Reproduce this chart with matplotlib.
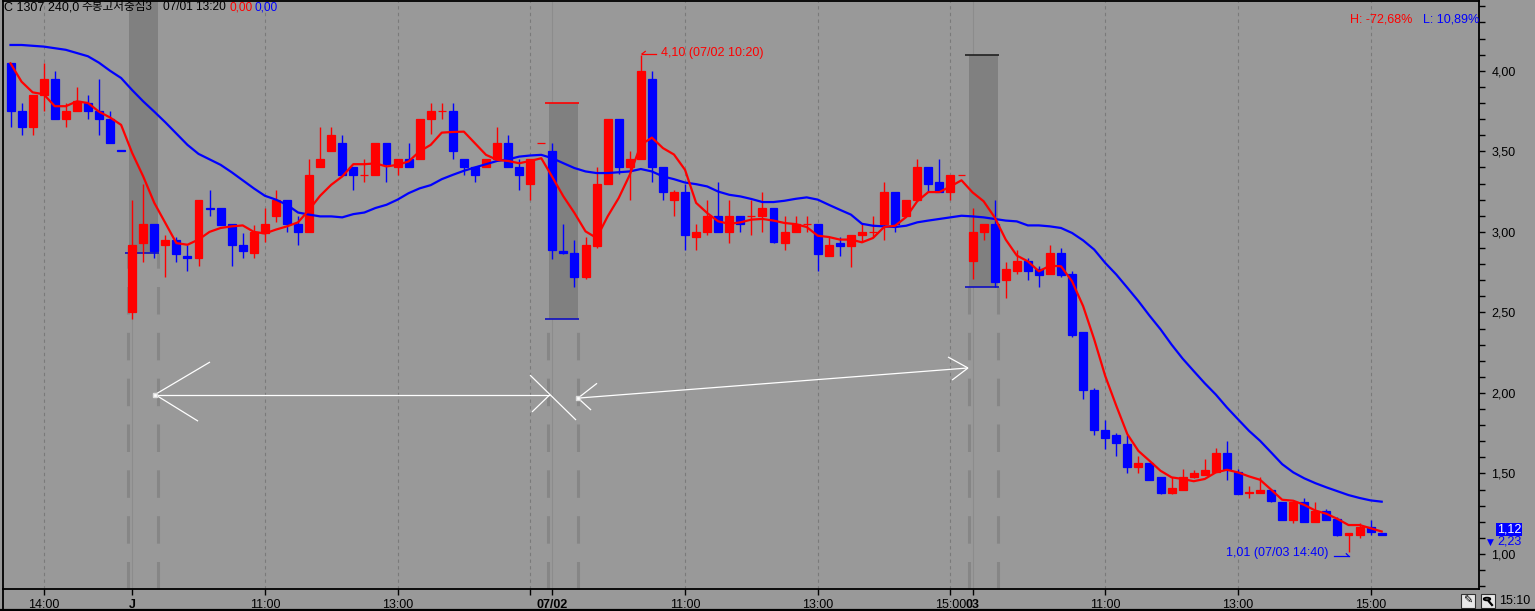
import matplotlib
matplotlib.use("Agg")
import matplotlib.pyplot as plt
from matplotlib.patches import Rectangle, Circle
from matplotlib.lines import Line2D
from matplotlib.ticker import FixedLocator, MultipleLocator, FuncFormatter

plt.rcParams['font.family'] = ['Liberation Sans', 'Noto Sans CJK KR', 'DejaVu Sans']

W, H, DPI = 1535, 611, 100

# ---------------- data (10-minute candles, 06/30 13:30 .. 07/03 15:10) ----------------
opens = [4.05, 3.75, 3.65, 3.85, 3.95, 3.70, 3.75, 3.80, 3.75, 3.70, 3.51,
         2.50, 2.93, 3.05, 2.92, 2.95, 2.85, 2.84, 3.15, 3.15, 3.05, 2.92, 2.87, 2.99, 3.10,
         3.20, 3.05, 3.00, 3.40, 3.50, 3.55, 3.40, 3.35, 3.35, 3.55, 3.40, 3.45, 3.45, 3.70,
         3.75, 3.75, 3.45, 3.40, 3.40, 3.45, 3.55, 3.40, 3.30, 3.55,
         3.50, 2.88, 2.87, 2.72, 2.91, 3.30, 3.70, 3.40, 3.45, 3.95, 3.40, 3.20, 3.25, 2.97,
         3.00, 3.10, 3.00, 3.10, 3.10, 3.10, 3.15, 2.93, 3.00, 3.05, 3.05, 2.85, 2.93, 2.91,
         2.98, 3.00, 3.05, 3.25, 3.10, 3.20, 3.40, 3.31, 3.25, 3.35,
         2.82, 3.00, 3.05, 2.70, 2.76, 2.82, 2.77, 2.74, 2.87, 2.74, 2.38, 2.02, 1.77, 1.74,
         1.68, 1.54, 1.565, 1.48, 1.38, 1.40, 1.48, 1.49, 1.51, 1.63, 1.51, 1.38, 1.38, 1.40,
         1.32, 1.21, 1.325, 1.20, 1.27, 1.22, 1.12, 1.12, 1.17, 1.13]
highs = [4.05, 3.80, 3.85, 4.05, 4.00, 3.80, 3.90, 3.85, 3.95, 3.75, 3.51,
         3.20, 3.30, 3.05, 2.98, 2.97, 2.92, 3.20, 3.26, 3.15, 3.05, 2.99, 3.04, 3.15, 3.26,
         3.20, 3.10, 3.45, 3.65, 3.65, 3.60, 3.40, 3.45, 3.55, 3.55, 3.45, 3.55, 3.70, 3.80,
         3.80, 3.80, 3.45, 3.40, 3.45, 3.65, 3.60, 3.45, 3.45, 3.55,
         3.55, 3.05, 2.95, 2.97, 3.40, 3.70, 3.70, 3.50, 4.10, 4.00, 3.40, 3.26, 3.30, 3.05,
         3.20, 3.31, 3.20, 3.10, 3.20, 3.25, 3.15, 3.10, 3.10, 3.10, 3.05, 2.97, 2.97, 2.98,
         3.05, 3.10, 3.31, 3.25, 3.20, 3.45, 3.40, 3.45, 3.35, 3.35,
         3.15, 3.05, 3.20, 2.81, 2.89, 2.84, 2.79, 2.92, 2.90, 2.76, 2.38, 2.03, 1.83, 1.75,
         1.74, 1.61, 1.565, 1.48, 1.48, 1.53, 1.52, 1.59, 1.66, 1.70, 1.53, 1.42, 1.48, 1.40,
         1.32, 1.33, 1.35, 1.32, 1.28, 1.23, 1.13, 1.19, 1.21, 1.13]
lows = [3.65, 3.60, 3.60, 3.75, 3.70, 3.65, 3.75, 3.70, 3.60, 3.55, 3.50,
        2.46, 2.81, 2.84, 2.72, 2.81, 2.76, 2.79, 3.10, 3.04, 2.79, 2.84, 2.84, 2.94, 3.06,
        3.00, 2.92, 3.00, 3.40, 3.50, 3.35, 3.26, 3.31, 3.35, 3.31, 3.35, 3.40, 3.45, 3.61,
        3.70, 3.45, 3.35, 3.31, 3.40, 3.45, 3.40, 3.26, 3.20, 3.55,
        2.83, 2.86, 2.66, 2.71, 2.90, 3.30, 3.36, 3.20, 3.45, 3.31, 3.20, 3.10, 2.89, 2.89,
        2.98, 3.00, 2.93, 3.00, 2.98, 3.00, 2.93, 2.89, 3.00, 3.00, 2.76, 2.85, 2.85, 2.78,
        2.94, 2.97, 2.95, 3.00, 3.10, 3.20, 3.25, 3.25, 3.20, 3.35,
        2.71, 2.95, 2.66, 2.59, 2.74, 2.70, 2.66, 2.74, 2.72, 2.35, 1.96, 1.74, 1.65, 1.61,
        1.50, 1.50, 1.46, 1.37, 1.37, 1.40, 1.47, 1.49, 1.51, 1.46, 1.37, 1.35, 1.38, 1.32,
        1.21, 1.19, 1.20, 1.20, 1.21, 1.11, 1.01, 1.10, 1.12, 1.12]
closes = [3.75, 3.65, 3.85, 3.95, 3.70, 3.75, 3.81, 3.75, 3.70, 3.55, 3.50,
          2.92, 3.05, 2.88, 2.95, 2.86, 2.84, 3.20, 3.14, 3.04, 2.92, 2.88, 3.00, 3.05, 3.20,
          3.05, 3.00, 3.35, 3.45, 3.60, 3.35, 3.35, 3.35, 3.55, 3.42, 3.45, 3.40, 3.70, 3.75,
          3.75, 3.50, 3.40, 3.35, 3.45, 3.55, 3.40, 3.35, 3.45, 3.55,
          2.89, 2.87, 2.72, 2.92, 3.30, 3.70, 3.40, 3.45, 4.00, 3.40, 3.25, 3.25, 2.98, 3.00,
          3.10, 3.00, 3.10, 3.05, 3.10, 3.15, 2.94, 3.00, 3.05, 3.05, 2.86, 2.92, 2.91, 2.98,
          3.00, 3.00, 3.25, 3.05, 3.20, 3.40, 3.30, 3.25, 3.35, 3.35,
          3.00, 3.05, 2.69, 2.77, 2.82, 2.76, 2.73, 2.87, 2.73, 2.36, 2.02, 1.77, 1.72, 1.69,
          1.54, 1.565, 1.46, 1.38, 1.41, 1.48, 1.50, 1.52, 1.63, 1.53, 1.37, 1.385, 1.40, 1.33,
          1.21, 1.325, 1.20, 1.27, 1.21, 1.12, 1.13, 1.17, 1.135, 1.12]
ma_short = [4.046, 3.932, 3.866, 3.854, 3.78, 3.78, 3.81, 3.80, 3.746, 3.71, 3.664,
            3.49, 3.344, 3.18, 3.055, 2.93, 2.92, 2.952, 3.00, 3.024, 3.034, 3.04, 3.00, 2.99, 3.014,
            3.034, 3.059, 3.137, 3.224, 3.292, 3.344, 3.42, 3.42, 3.425, 3.406, 3.416, 3.437, 3.50, 3.54,
            3.616, 3.62, 3.622, 3.55, 3.478, 3.447, 3.44, 3.426, 3.44, 3.457,
            3.34, 3.22, 3.117, 3.003, 2.962, 3.096, 3.21, 3.354, 3.54, 3.585, 3.52, 3.48, 3.385, 3.18,
            3.117, 3.065, 3.05, 3.059, 3.076, 3.08, 3.07, 3.055, 3.048, 3.03, 2.976, 2.968, 2.952, 2.952,
            2.935, 2.962, 3.03, 3.038, 3.092, 3.19, 3.247, 3.247, 3.282, 3.32,
            3.245, 3.19, 3.09, 2.952, 2.853, 2.817, 2.755, 2.79, 2.786, 2.693, 2.539, 2.333, 2.105, 1.92,
            1.744, 1.64, 1.579, 1.517, 1.476, 1.466, 1.452, 1.466, 1.507, 1.523, 1.507, 1.482, 1.461, 1.40,
            1.337, 1.331, 1.305, 1.27, 1.25, 1.218, 1.18, 1.18, 1.16, 1.14]
ma_long = [4.16, 4.16, 4.155, 4.15, 4.14, 4.13, 4.11, 4.09, 4.05, 4.00, 3.955,
           3.88, 3.81, 3.746, 3.68, 3.61, 3.54, 3.484, 3.45, 3.416, 3.37, 3.32, 3.27, 3.224, 3.20,
           3.168, 3.12, 3.107, 3.096, 3.096, 3.09, 3.11, 3.12, 3.148, 3.168, 3.20, 3.24, 3.27, 3.29,
           3.327, 3.354, 3.379, 3.40, 3.42, 3.44, 3.45, 3.467, 3.474, 3.478,
           3.457, 3.426, 3.396, 3.375, 3.365, 3.365, 3.37, 3.375, 3.39, 3.375, 3.344, 3.327, 3.306, 3.296,
           3.282, 3.25, 3.23, 3.22, 3.204, 3.185, 3.185, 3.193, 3.205, 3.214, 3.20, 3.168, 3.137, 3.107,
           3.05, 3.038, 3.034, 3.03, 3.038, 3.059, 3.07, 3.08, 3.09, 3.10,
           3.096, 3.09, 3.08, 3.07, 3.065, 3.04, 3.04, 3.034, 3.024, 2.993, 2.947, 2.89, 2.807, 2.735,
           2.653, 2.57, 2.48, 2.395, 2.30, 2.213, 2.136, 2.06, 1.99, 1.91, 1.837, 1.765, 1.703, 1.631,
           1.558, 1.507, 1.47, 1.44, 1.414, 1.39, 1.366, 1.348, 1.333, 1.325]

tick_pos = [3, 11, 23, 35, 47, 49, 61, 73, 85, 87, 99, 111, 123]
tick_labels = ['14:00', 'J', '11:00', '13:00', '', '07/02', '11:00', '13:00', '15:00', '03',
               '11:00', '13:00', '15:00']
day_starts = [11, 49, 87]
# previous-session range bands at each day start
band_high = [4.60, 3.80, 4.10]
band_low = [2.87, 2.456, 2.66]

max_label = '4,10 (07/02 10:20)'
min_label = '1,01 (07/03 14:40)'

# ---------------- figure ----------------
BG = '#999999'
RED = '#ff0000'
BLUE = '#0000ff'
FS = 9
fig = plt.figure(figsize=(W / DPI, H / DPI), dpi=DPI, facecolor=BG)


def fx(px):
    return px / W


def fy(py):
    return 1 - py / H


ax = fig.add_axes([fx(3), fy(589), fx(1479) - fx(3), fy(1) - fy(589)])
ax.set_facecolor(BG)
n = len(opens)
xs = list(range(n))
ax.set_xlim(-0.68, 132.8)
ax.set_ylim(0.783, 4.433)

# grid lines
for p, lab in zip(tick_pos, tick_labels):
    if p in day_starts:
        ax.axvline(p, color='#8c8c8c', lw=0.8, zorder=1)
    else:
        ax.axvline(p, color='#7a7a7a', lw=0.8, ls=(0, (3, 3)), zorder=1)

# day bands
for d, bh, bl in zip(day_starts, band_high, band_low):
    ax.add_patch(Rectangle((d - 0.3, bl), 2.6, bh - bl, facecolor='#808080', edgecolor='none', zorder=1.5))
    for ex in (d - 0.35, d + 2.3):
        ax.vlines(ex, 0.78, bl, colors='#868686', lw=2.2, linestyles=[(0, (9, 6))], zorder=1.4)
    ax.hlines(bl, d - 0.65, d + 2.4, colors='#1010c0', lw=1.2, zorder=2)
for d, bh, col in zip(day_starts[1:], band_high[1:], [RED, '#202020']):
    ax.hlines(bh, d - 0.65, d + 2.4, colors=col, lw=1.2, zorder=2)

# candles
colors = [RED if c >= o else BLUE for o, c in zip(opens, closes)]
ax.vlines(xs, lows, highs, colors=colors, lw=1.0, zorder=3)
bottoms = [min(o, c) for o, c in zip(opens, closes)]
heights = [abs(c - o) for o, c in zip(opens, closes)]
ax.bar(xs, heights, bottom=bottoms, width=0.72, color=colors, edgecolor=colors, linewidth=0.9, zorder=4)

# moving averages
ax.plot(xs, ma_long, color=BLUE, lw=1.6, zorder=5)
ax.plot(xs, ma_short, color=RED, lw=1.6, zorder=6)

# white arrows (drawn trend markers)
wsegs = [((13.07, 1.99), (48.79, 1.99)),
         ((13.07, 1.99), (18.04, 2.192)), ((13.07, 1.99), (16.96, 1.825)),
         ((46.98, 2.111), (51.14, 1.832)), ((47.16, 1.882), (48.79, 1.99)),
         ((51.32, 1.968), (86.59, 2.155)),
         ((51.32, 1.968), (53.04, 2.06)), ((51.32, 1.968), (52.5, 1.894)),
         ((86.59, 2.155), (84.78, 2.223)), ((86.59, 2.155), (85.15, 2.08))]
for (x0, y0), (x1, y1) in wsegs:
    ax.plot([x0, x1], [y0, y1], color='white', lw=0.9, zorder=7, solid_capstyle='butt')
ax.plot([13.07, 51.32], [1.99, 1.968], ls='none', marker='s', ms=2.5, mfc='white', mec='#dddddd', zorder=7)

# max / min annotations
imax = max(range(n), key=lambda i: highs[i])
imin = min(range(n), key=lambda i: lows[i])
ax.text(imax + 1.85, highs[imax] + 0.012, max_label, color=RED, fontsize=FS, ha='left', va='center', zorder=8)
ax.plot([imax + 0.1, imax + 1.4], [highs[imax] + 0.004] * 2, color=RED, lw=0.9, zorder=8)
ax.plot([imax + 0.1, imax + 0.4], [highs[imax] + 0.004, highs[imax] + 0.02], color=RED, lw=0.9, zorder=8)
ax.text(imin - 11.1, lows[imin] - 0.005, min_label, color=BLUE, fontsize=FS, ha='left', va='center', zorder=8)
ax.plot([imin - 1.3, imin + 0.05], [lows[imin] - 0.025] * 2, color=BLUE, lw=0.9, zorder=8)
ax.plot([imin - 0.2, imin + 0.05], [lows[imin] - 0.008, lows[imin] - 0.025], color=BLUE, lw=0.9, zorder=8)

# axes styling
for s in ax.spines.values():
    s.set_color('black')
    s.set_linewidth(1.3)
ax.yaxis.tick_right()
ax.yaxis.set_major_locator(MultipleLocator(0.5))
ax.yaxis.set_minor_locator(MultipleLocator(0.1))
ax.yaxis.set_major_formatter(FuncFormatter(lambda v, p: f'{v:.2f}'.replace('.', ',')))
ax.tick_params(axis='y', which='both', direction='out', length=4, width=1, colors='black',
               labelsize=FS, pad=5)
ax.xaxis.set_major_locator(FixedLocator(tick_pos))
ax.set_xticklabels(tick_labels)
ax.tick_params(axis='x', which='major', direction='out', length=4, width=1, labelsize=FS, pad=3)
for t, lab in zip(ax.get_xticklabels(), tick_labels):
    if lab in ('07/02', '03', 'J'):
        t.set_fontweight('bold')

# header
hy = fy(7)
fig.text(fx(4), hy, 'C 1307 240,0', fontsize=FS, va='center', ha='left', color='black')
fig.text(fx(81), hy, '주봉고저중심3', fontsize=8.4, va='center', ha='left', color='black')
fig.text(fx(163), hy, '07/01 13:20', fontsize=8.6, va='center', ha='left', color='black')
fig.text(fx(229), hy, '0,00', fontsize=8.6, va='center', ha='left', color=RED)
fig.text(fx(255), hy, '0,00', fontsize=8.6, va='center', ha='left', color=BLUE)
fig.text(fx(1412), fy(19), 'H: -72,68%', fontsize=FS, va='center', ha='right', color=RED)
fig.text(fx(1423), fy(19), 'L: 10,89%', fontsize=FS, va='center', ha='left', color=BLUE)

# right side price markers
fig.text(fx(1509), fy(529.5), f'{closes[-1]:.2f}'.replace('.', ','), fontsize=FS, va='center', ha='center',
         color='white', bbox=dict(facecolor=BLUE, edgecolor='none', pad=0.6))
fig.text(fx(1490), fy(542), '▼', fontsize=6.5, va='center', ha='center', color=BLUE, family='DejaVu Sans')
fig.text(fx(1509), fy(542), '2,23', fontsize=FS, va='center', ha='center', color=BLUE,
         bbox=dict(facecolor=BG, edgecolor='none', pad=0.3))

# bottom-right time and icons
fig.text(fx(1515), fy(601), '15:10', fontsize=FS, va='center', ha='center', color='black')
for bx in (1461, 1481):
    fig.patches.append(Rectangle((fx(bx), fy(608)), 14 / W, 14 / H, transform=fig.transFigure,
                                 facecolor='#e8e8e8', edgecolor='#303030', lw=0.8))
fig.text(fx(1468), fy(601), '✎', fontsize=8, va='center', ha='center', family='DejaVu Sans')
fig.patches.append(Circle((fx(1487), fy(599)), 3.2 / W, transform=fig.transFigure,
                          facecolor='none', edgecolor='black', lw=1.4))
fig.add_artist(Line2D([fx(1489), fx(1492)], [fy(601.5), fy(605)], color='black', lw=1.6))

# figure borders
fig.add_artist(Line2D([0, 1], [fy(609.8), fy(609.8)], color='black', lw=1.6))
fig.add_artist(Line2D([fx(3), fx(3)], [fy(611), fy(589)], color='black', lw=1.3))

fig.savefig('out.png', dpi=DPI, facecolor=BG)
